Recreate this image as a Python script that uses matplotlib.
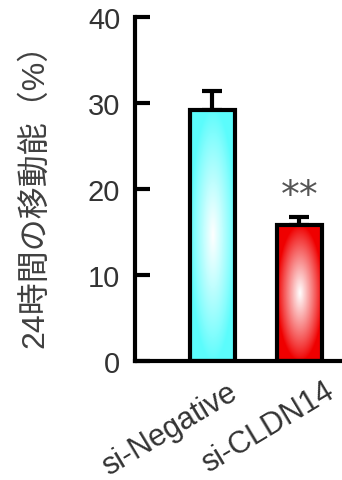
import numpy as np
import matplotlib
matplotlib.use('Agg')
import matplotlib.pyplot as plt

plt.rcParams['font.family'] = ['Liberation Sans', 'Noto Sans CJK JP', 'DejaVu Sans']

groups = ['si-Negative', 'si-CLDN14']
values = [29.2, 15.8]
errors = [2.2, 0.9]
base_colors = [(0.36, 0.99, 0.99), (0.94, 0.0, 0.0)]
yticks = [0, 10, 20, 30, 40]
ylabel = '24時間の移動能（%）'
sig_label = '**'
sig_y = 19.2

fig = plt.figure(figsize=(3.42, 4.81), dpi=100)
ax = fig.add_axes([0.396, 0.2474, 0.604, 0.7152])

x = np.arange(len(groups))
width = 0.52

# bars drawn as outlines, filled with a radial white highlight
bars = ax.bar(x, values, width=width, facecolor='none', edgecolor='black',
              linewidth=3, zorder=3)

ny, nx = 200, 60
u = np.linspace(-1, 1, nx)
v = np.linspace(-1, 1, ny)
U, V = np.meshgrid(u, v)
R = np.sqrt(U ** 2 + V ** 2)
f = np.clip(1 - R, 0, 1) ** 0.9

for bar, col in zip(bars, base_colors):
    c = np.array(col)
    img = c[None, None, :] * (1 - f[..., None]) + f[..., None]
    x0 = bar.get_x()
    im = ax.imshow(img, extent=(x0, x0 + bar.get_width(), 0, bar.get_height()),
                   aspect='auto', origin='lower', zorder=2, interpolation='bilinear')
    im.set_clip_path(bar)

ax.errorbar(x, values, yerr=[[0] * len(errors), errors], fmt='none',
            ecolor='black', elinewidth=3, capsize=7.5, capthick=3, zorder=1)

ax.text(x[1], sig_y, sig_label, ha='center', va='center', fontsize=27,
        color='#555555', family='DejaVu Sans')

ax.set_xlim(-0.885, 1.49)
ax.set_ylim(0, 40)
ax.set_yticks(yticks)
ax.tick_params(axis='y', direction='in', length=11, width=3, pad=11,
               labelsize=21, labelcolor='#333333')
ax.set_xticks([])

for side in ['top', 'right']:
    ax.spines[side].set_visible(False)
for side in ['left', 'bottom']:
    ax.spines[side].set_linewidth(3)

# category names, slanted under each bar
offsets = [(19, -26), (26, -25)]
for xi, name, (dx, dy) in zip(x, groups, offsets):
    ax.annotate(name, xy=(xi, 0), xytext=(dx, dy), textcoords='offset points',
                ha='right', va='baseline', rotation=31, rotation_mode='anchor',
                fontsize=22, color='#333333', annotation_clip=False)

fig.text(35 / 342, 1 - 188 / 481, ylabel, rotation=90, ha='center', va='center',
         fontsize=23, color='#404040')

fig.savefig('out.png', dpi=100)
